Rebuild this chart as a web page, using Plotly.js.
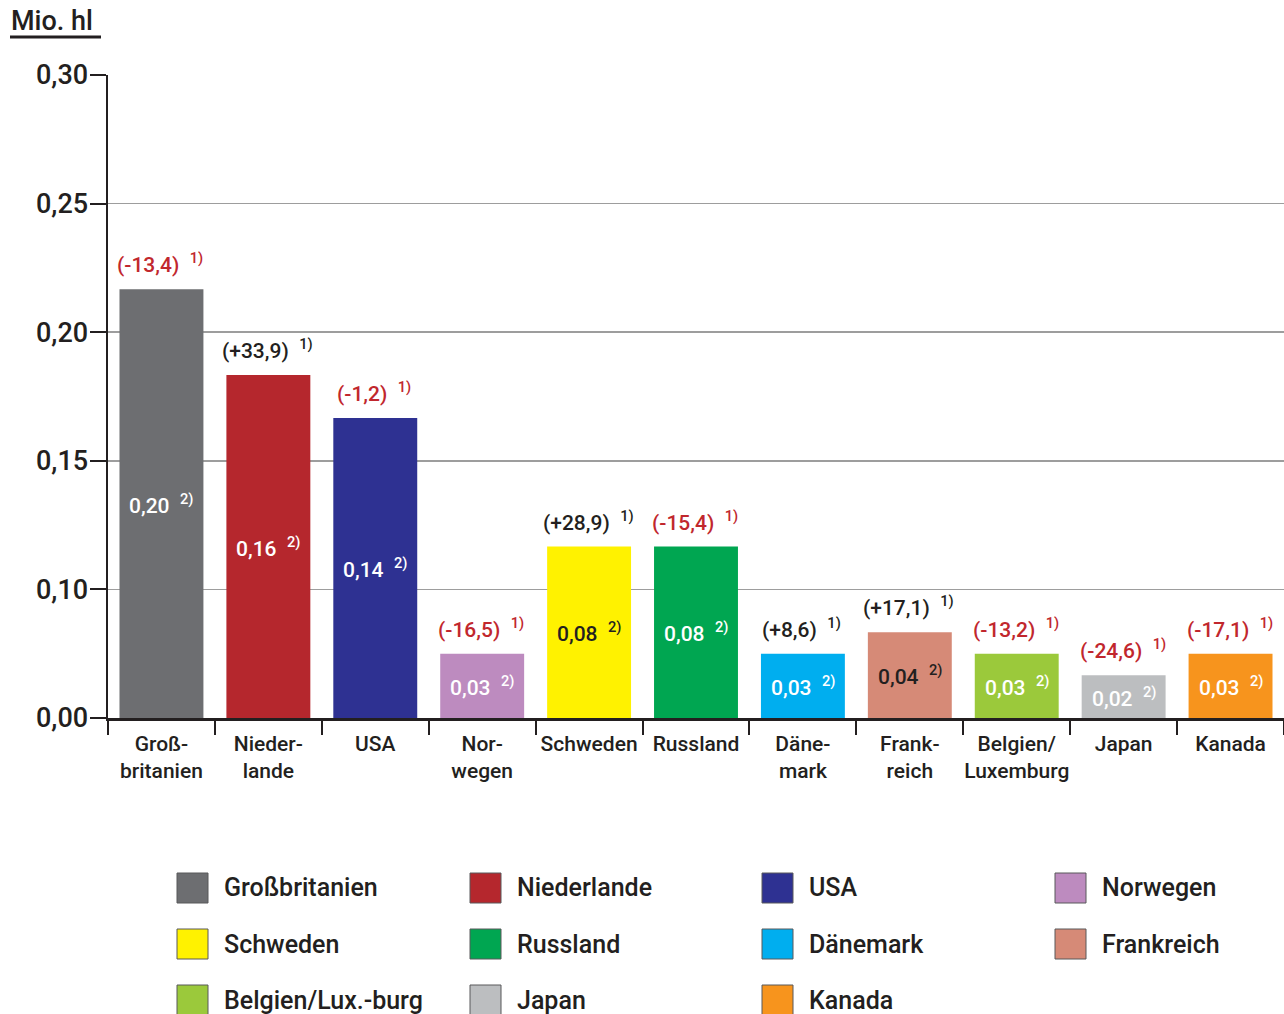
<!DOCTYPE html>
<html>
<head>
<meta charset="utf-8">
<script src="https://cdn.plot.ly/plotly-3.0.1.min.js"></script>
<style>
  html, body { margin: 0; padding: 0; background: #fff; }
  #chart { width: 1284px; height: 1014px; }
</style>
</head>
<body>
<div id="chart"></div>
<script>
// ---- data ----
const categories = ["Großbritanien", "Niederlande", "USA", "Norwegen", "Schweden", "Russland",
                    "Dänemark", "Frankreich", "Belgien/Luxemburg", "Japan", "Kanada"];
const tickLabels = ["Groß-<br>britanien", "Nieder-<br>lande", "USA", "Nor-<br>wegen", "Schweden", "Russland",
                    "Däne-<br>mark", "Frank-<br>reich", "Belgien/<br>Luxemburg", "Japan", "Kanada"];
const legendLabels = ["Großbritanien", "Niederlande", "USA", "Norwegen", "Schweden", "Russland",
                      "Dänemark", "Frankreich", "Belgien/Lux.-burg", "Japan", "Kanada"];
const values = [0.20, 0.16, 0.14, 0.03, 0.08, 0.08, 0.03, 0.04, 0.03, 0.02, 0.03];
const changes = [-13.4, 33.9, -1.2, -16.5, 28.9, -15.4, 8.6, 17.1, -13.2, -24.6, -17.1];
const colors = ["#6d6e71", "#b5272d", "#2e3192", "#bd8bbf", "#fff200", "#00a651",
                "#00aeef", "#d68a77", "#9bc93b", "#bcbec0", "#f7941d"];
const innerTextColors = ["#ffffff", "#ffffff", "#ffffff", "#ffffff", "#231f20", "#ffffff",
                         "#ffffff", "#231f20", "#ffffff", "#ffffff", "#ffffff"];
const yTickVals = [0, 0.06, 0.12, 0.18, 0.24, 0.30];
const yTickText = ["0,00", "0,10", "0,15", "0,20", "0,25", "0,30"];
const unitLabel = "Mio. hl";

// ---- layout helpers ----
const W = 1284, H = 1014;
const M = {l: 108, r: 0, t: 75, b: 296};
const plotW = W - M.l - M.r, plotH = H - M.t - M.b;
const px2x = px => (px - M.l) / plotW;
const px2y = py => (H - M.b - py) / plotH;
const FONT = "Roboto, 'Noto Sans', Arial, sans-serif";
const DARK = "#231f20";
const RED = "#c1272d";
const WT = 500;

const fmt = (v, d) => v.toFixed(d).replace(".", ",");

const trace = {
  type: "bar",
  x: categories,
  y: values,
  marker: {color: colors, line: {width: 0}},
  width: 0.785,
  hoverinfo: "x+y",
  showlegend: false
};

const annotations = [];
categories.forEach((c, i) => {
  const ch = changes[i];
  const chText = "(" + (ch > 0 ? "+" : "") + fmt(ch, 1) + ")  <sup>1)</sup>";
  annotations.push({
    x: c, y: values[i], xref: "x", yref: "y",
    text: chText, showarrow: false,
    yanchor: "middle", yshift: 26, xshift: -1,
    font: {family: FONT, size: 21, weight: WT, color: ch < 0 ? RED : DARK}
  });
  annotations.push({
    x: c, y: values[i] / 2, xref: "x", yref: "y",
    text: fmt(values[i], 2) + "  <sup>2)</sup>", showarrow: false,
    yanchor: "middle", xshift: 0,
    font: {family: FONT, size: 21, weight: WT, color: innerTextColors[i]}
  });
});

// unit label
annotations.push({
  x: px2x(9), y: px2y(21), xref: "paper", yref: "paper",
  xanchor: "left", yanchor: "middle", showarrow: false,
  text: unitLabel, font: {family: FONT, size: 27, weight: WT, color: DARK}
});

const shapes = [{
  type: "line", xref: "paper", yref: "paper",
  x0: px2x(10), x1: px2x(101), y0: px2y(37), y1: px2y(37),
  line: {color: DARK, width: 3}
}];

// custom legend
const colX = [177, 470, 762, 1055];
const rowY = [888, 944, 1000];
legendLabels.forEach((lab, i) => {
  const cx = colX[i % 4], cy = rowY[Math.floor(i / 4)];
  shapes.push({
    type: "rect", xref: "paper", yref: "paper",
    x0: px2x(cx), x1: px2x(cx + 31), y0: px2y(cy - 15), y1: px2y(cy + 15),
    fillcolor: colors[i], line: {color: "#58595b", width: 1}
  });
  annotations.push({
    x: px2x(cx + 45), y: px2y(cy), xref: "paper", yref: "paper",
    xanchor: "left", yanchor: "middle", showarrow: false,
    text: lab, font: {family: FONT, size: 25, weight: WT, color: DARK}
  });
});

const layout = {
  width: W, height: H,
  margin: M,
  paper_bgcolor: "#ffffff",
  plot_bgcolor: "#ffffff",
  font: {family: FONT, color: DARK},
  showlegend: false,
  xaxis: {
    type: "category",
    tickmode: "array",
    tickvals: categories,
    ticktext: tickLabels,
    tickson: "boundaries",
    ticks: "outside", ticklen: 14, tickwidth: 2, tickcolor: DARK,
    ticklabelstandoff: 5,
    showline: true, linecolor: DARK, linewidth: 2.5,
    showgrid: false, zeroline: false,
    tickfont: {family: FONT, size: 21, weight: WT, color: DARK},
    tickangle: 0,
    range: [-0.5, 10.5],
    fixedrange: true
  },
  yaxis: {
    range: [0, 0.30],
    tickmode: "array",
    tickvals: yTickVals,
    ticktext: yTickText,
    ticks: "outside", ticklen: 16, tickwidth: 2, tickcolor: DARK,
    ticklabelstandoff: -4,
    showline: true, linecolor: DARK, linewidth: 2.5,
    showgrid: true, gridcolor: "#9d9d9d", gridwidth: 1.5,
    zeroline: false,
    tickfont: {family: FONT, size: 27, weight: WT, color: DARK},
    fixedrange: true
  },
  annotations: annotations,
  shapes: shapes
};

Plotly.newPlot("chart", [trace], layout, {displayModeBar: false, staticPlot: true});
</script>
</body>
</html>
